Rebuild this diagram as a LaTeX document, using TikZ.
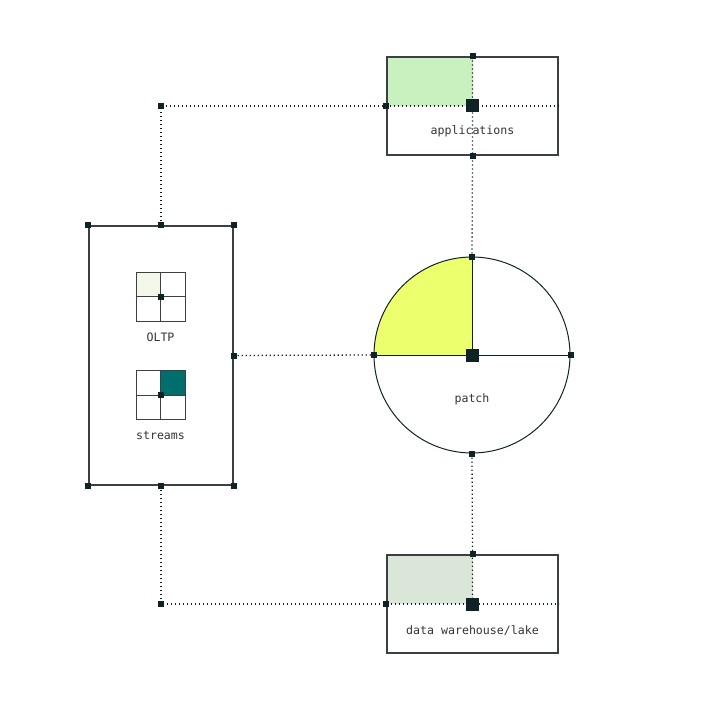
\documentclass[tikz,border=0pt]{standalone}
\usepackage{fontspec}
\setmonofont{DejaVu Sans Mono}
\usetikzlibrary{calc}
\definecolor{ink}{HTML}{0F2226}
\definecolor{edge}{HTML}{3B4141}
\definecolor{appgreen}{HTML}{C9F1C0}
\definecolor{lakegreen}{HTML}{D9E6D8}
\definecolor{patchyellow}{HTML}{ECFF6C}
\definecolor{oltppale}{HTML}{F4F8E8}
\definecolor{streamteal}{HTML}{006E6C}
\tikzset{
  pin/.style={rectangle,fill=ink,inner sep=0pt,minimum size=6pt},
  bigpin/.style={rectangle,fill=ink,inner sep=0pt,minimum size=13pt},
  link/.style={ink,line width=1.3pt,dash pattern=on 1.3pt off 2.7pt},
  frame/.style={draw=edge,line width=1.3pt,rectangle,inner sep=0pt},
  label/.style={font=\ttfamily\fontsize{11.6}{13}\selectfont,text=black!80},
  quarter/.style={path picture={\fill[#1] (path picture bounding box.north west) rectangle (path picture bounding box.center);}},
  quarterne/.style={path picture={\fill[#1] (path picture bounding box.north east) rectangle (path picture bounding box.center);}}
}

\begin{document}
\begin{tikzpicture}[x=1pt,y=-1pt]
\useasboundingbox (0,0) rectangle (703,703);

% targets
\draw node [frame,minimum width=171pt,minimum height=98pt,quarter=appgreen](apps) at (472.5,106){};
\draw node [frame,minimum width=171pt,minimum height=98pt,quarter=lakegreen](lake) at (472.5,604){};
\draw node [draw=ink,line width=1pt,circle,inner sep=0pt,minimum size=196pt,quarter=patchyellow](patch) at (472,355){};
\draw[ink,line width=1pt] (patch.west) -- (patch.east);
\draw[ink,line width=1pt] (patch.center) -- (patch.north);

% sources
\draw node [frame,minimum width=144pt,minimum height=259pt](srcs) at (161,355.5){};
\draw node [frame,line width=1pt,minimum size=49pt,quarter=oltppale](oltp) at (160.5,296.5){};
\draw[edge,line width=1pt] (oltp.north) -- (oltp.south);
\draw[edge,line width=1pt] (oltp.west) -- (oltp.east);
\draw node [frame,line width=1pt,minimum size=49pt,quarterne=streamteal](streams) at (160.5,395){};
\draw[edge,line width=1pt] (streams.north) -- (streams.south);
\draw[edge,line width=1pt] (streams.west) -- (streams.east);

% links
\draw[link] (srcs.north) -- (srcs.north |- apps.center) -- (apps.west) -- (apps.east);
\draw[link] (apps.north) -- (apps.south) -- (patch.north);
\draw[link] (srcs.east) -- (patch.west);
\draw[link] (patch.south) -- (lake.north) -- (lake.center);
\draw[link] (srcs.south) -- (srcs.south |- lake.center) -- (lake.east);

% pins
\foreach \p in {apps.north,apps.west,apps.south,lake.north,lake.west,
  patch.north,patch.west,patch.east,patch.south,
  srcs.north west,srcs.north,srcs.north east,srcs.east,
  srcs.south west,srcs.south,srcs.south east,oltp.center,streams.center}
  \draw node [pin] at (\p){};
\draw node [pin] at (srcs.north |- apps.center){};
\draw node [pin] at (srcs.south |- lake.center){};
\draw node [bigpin] at (apps.center){};
\draw node [bigpin] at (lake.center){};
\draw node [bigpin] at (patch.center){};

% labels
\draw node [label] at ($ (apps.center)+(0,25) $){applications};
\draw node [label] at ($ (lake.center)+(0,27) $){data warehouse/lake};
\draw node [label] at ($ (patch.center)+(0,44) $){patch};
\draw node [label] at ($ (oltp.south)+(0,16) $){OLTP};
\draw node [label] at ($ (streams.south)+(0,16) $){streams};

\end{tikzpicture}
\end{document}
